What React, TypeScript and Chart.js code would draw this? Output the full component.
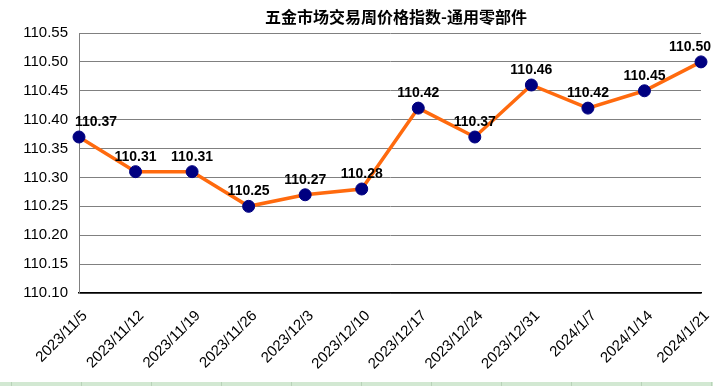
import React, { useEffect, useRef } from "react";
import { Chart, registerables } from "chart.js";

Chart.register(...registerables);

const TITLE = "五金市场交易周价格指数-通用零部件";
const CATEGORIES = [
  "2023/11/5", "2023/11/12", "2023/11/19", "2023/11/26", "2023/12/3", "2023/12/10",
  "2023/12/17", "2023/12/24", "2023/12/31", "2024/1/7", "2024/1/14", "2024/1/21",
];
const VALUES = [110.37, 110.31, 110.31, 110.25, 110.27, 110.28, 110.42, 110.37, 110.46, 110.42, 110.45, 110.5];
const Y_MIN = 110.1;
const Y_MAX = 110.55;
const Y_STEP = 0.05;

const titlePlugin = {
  id: "customTitle",
  afterDraw(chart: any) {
    const { ctx, chartArea } = chart;
    ctx.save();
    ctx.font = 'bold 16px "Noto Sans CJK SC"';
    ctx.fillStyle = "#000";
    ctx.textAlign = "center";
    ctx.textBaseline = "middle";
    ctx.fillText(TITLE, (chartArea.left + chartArea.right) / 2 + 6, 17);
    ctx.restore();
  },
};

const labelPlugin = {
  id: "pointLabels",
  afterDatasetsDraw(chart: any) {
    const { ctx, chartArea } = chart;
    const meta = chart.getDatasetMeta(0);
    ctx.save();
    ctx.font = 'bold 14px "Liberation Sans", Arial, sans-serif';
    ctx.fillStyle = "#000";
    ctx.textBaseline = "middle";
    ctx.textAlign = "center";
    meta.data.forEach((pt: any, i: number) => {
      const text = VALUES[i].toFixed(2);
      const w = ctx.measureText(text).width;
      let x = pt.x;
      if (x - w / 2 < chartArea.left - 4) x = chartArea.left - 4 + w / 2;
      if (x + w / 2 > chart.width - 2) x = chart.width - 2 - w / 2;
      ctx.fillText(text, x, pt.y - 15);
    });
    ctx.restore();
  },
};

export default function App() {
  const ref = useRef<HTMLCanvasElement>(null);
  useEffect(() => {
    document.body.style.margin = "0";
    const chart = new Chart(ref.current!, {
      type: "line",
      data: {
        labels: CATEGORIES,
        datasets: [
          {
            data: VALUES,
            borderColor: "#FF6A0E",
            borderWidth: 3.5,
            pointBackgroundColor: "#000080",
            pointBorderColor: "#000080",
            pointRadius: 6,
            pointBorderWidth: 1,
            tension: 0,
          },
        ],
      },
      options: {
        animation: false,
        responsive: false,
        maintainAspectRatio: false,
        layout: { padding: { left: 0, right: 12, top: 33, bottom: 0 } },
        plugins: { legend: { display: false }, tooltip: { enabled: false }, title: { display: false } },
        scales: {
          x: {
            offset: false,
            grid: { display: false, drawTicks: false },
            border: { color: "#000", width: 1.5 },
            ticks: {
              maxRotation: 45,
              minRotation: 45,
              autoSkip: false,
              padding: 14,
              labelOffset: 6,
              color: "#000",
              font: { family: '"Liberation Sans", Arial, sans-serif', size: 15 },
            },
            afterFit(scale: any) {
              scale.height = 93;
              scale.paddingLeft = 0;
              scale.paddingRight = 0;
            },
          },
          y: {
            min: Y_MIN,
            max: Y_MAX,
            grid: { color: "#808080", lineWidth: 1, drawTicks: false },
            border: { color: "#808080", width: 1 },
            ticks: {
              stepSize: Y_STEP,
              padding: 11,
              color: "#000",
              font: { family: '"Liberation Sans", Arial, sans-serif', size: 15 },
              callback: (v: any) => Number(v).toFixed(2),
            },
            afterFit(scale: any) {
              scale.width = 79;
              scale.paddingTop = 0;
              scale.paddingBottom = 0;
            },
          },
        },
      },
      plugins: [titlePlugin, labelPlugin],
    });
    return () => chart.destroy();
  }, []);
  return (
    <div style={{ position: "relative", width: 713, height: 386, background: "#fff", overflow: "hidden" }}>
      <canvas ref={ref} width={713} height={386} style={{ display: "block" }} />
      <div
        style={{
          position: "absolute",
          left: 0,
          top: 382,
          width: 713,
          height: 4,
          background:
            "repeating-linear-gradient(to right, #D2E8D2 0px, #D2E8D2 11px, #B9D3B9 11px, #B9D3B9 12px, #D2E8D2 12px, #D2E8D2 70px)",
        }}
      />
    </div>
  );
}
